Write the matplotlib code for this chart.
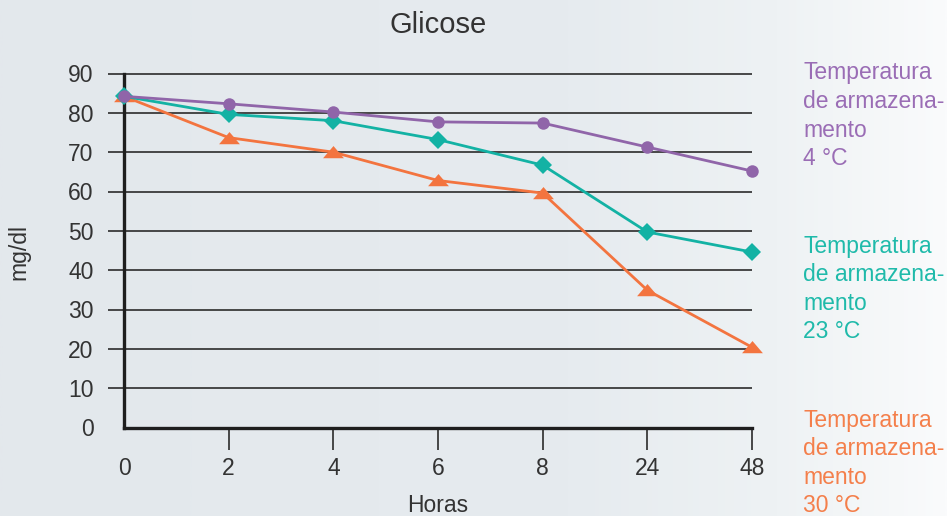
import numpy as np
import matplotlib
matplotlib.use("Agg")
import matplotlib.pyplot as plt
from matplotlib.colors import LinearSegmentedColormap

plt.rcParams['font.family'] = ['Liberation Sans', 'DejaVu Sans']

# Data
hours = ["0", "2", "4", "6", "8", "24", "48"]
temp_4 = [84.2, 82.3, 80.2, 77.7, 77.4, 71.3, 65.2]
temp_23 = [84.2, 79.6, 78.0, 73.2, 66.7, 49.7, 44.6]
temp_30 = [84.2, 73.7, 70.0, 62.8, 59.6, 34.9, 20.4]
series_labels = [
    ["Temperatura", "de armazena-", "mento", "4 \u00b0C"],
    ["Temperatura", "de armazena-", "mento", "23 \u00b0C"],
    ["Temperatura", "de armazena-", "mento", "30 \u00b0C"],
]
y_ticks = [0, 10, 20, 30, 40, 50, 60, 70, 80, 90]

line_colors = ["#9065a9", "#13b2a4", "#f3743f"]
text_colors = ["#9a6db5", "#1fbaaa", "#f47f4b"]
ink = "#333333"

W, H = 947, 516
fig = plt.figure(figsize=(W / 100, H / 100), dpi=100)

# Background: flat blue-grey fading to near white on the right
bg = fig.add_axes([0, 0, 1, 1], zorder=-10)
cmap = LinearSegmentedColormap.from_list(
    "bg", [(0.0, "#e3e8ec"), (0.6, "#e6ebef"), (0.82, "#eef2f4"), (1.0, "#fafbfc")])
grad = np.linspace(0, 1, 512).reshape(1, -1)
bg.imshow(grad, aspect="auto", cmap=cmap, extent=[0, 1, 0, 1])
bg.set_axis_off()

# Plot area in pixel coordinates
x0, x1 = 124, 752
y_top, y_bot = 73.5, 427.5
ax = fig.add_axes([x0 / W, 1 - y_bot / H, (x1 - x0) / W, (y_bot - y_top) / H])
ax.patch.set_alpha(0)
xpos = np.arange(len(hours))
ax.set_xlim(0, len(hours) - 1)
ax.set_ylim(0, 90)

# Horizontal grid lines, reaching a little left of the y axis
ext = 16 / (x1 - x0) * (len(hours) - 1)
for yv in y_ticks[1:]:
    ax.plot([-ext, len(hours) - 1], [yv, yv], color="#3a3a3a", lw=1.3,
            clip_on=False, zorder=1, solid_capstyle="butt")

for s in ["top", "right"]:
    ax.spines[s].set_visible(False)
for s in ["left", "bottom"]:
    ax.spines[s].set_color("#1e1e1e")
    ax.spines[s].set_linewidth(2.4)
    ax.spines[s].set_zorder(2)

fs = 16.5
ax.set_yticks(y_ticks)
ax.set_yticklabels([str(v) for v in y_ticks])
ax.tick_params(axis="y", length=0, pad=22, labelsize=fs, labelcolor=ink)
ax.set_xticks(xpos)
ax.set_xticklabels(hours)
ax.tick_params(axis="x", length=16, width=1.3, color="#3a3a3a", pad=5,
               labelsize=fs, labelcolor=ink)
ax.xaxis.get_major_ticks()[0].tick1line.set_visible(False)

tri = [(-1.0, -0.55), (1.0, -0.55), (0.0, 0.62)]
ax.plot(xpos, temp_4, color=line_colors[0], lw=2.0, marker="o", ms=9,
        markeredgewidth=0, clip_on=False, zorder=5)
ax.plot(xpos, temp_23, color=line_colors[1], lw=2.0, marker="D", ms=9,
        markeredgewidth=0, clip_on=False, zorder=4)
ax.plot(xpos, temp_30, color=line_colors[2], lw=2.0, marker=tri, ms=15,
        markeredgewidth=0, clip_on=False, zorder=3)

fig.text(438 / W, 1 - 25 / H, "Glicose", ha="center", va="center",
         fontsize=21, color=ink)
fig.text(438 / W, 1 - 505 / H, "Horas", ha="center", va="center",
         fontsize=fs, color=ink)
fig.text(19 / W, 1 - 252 / H, "mg/dl", ha="center", va="center",
         rotation=90, fontsize=fs, color=ink)

# Series labels to the right of the plot
starts = [73, 246, 420]
spacing = 28.6
for lines, c, y_start in zip(series_labels, text_colors, starts):
    for i, line in enumerate(lines):
        fig.text(803 / W, 1 - (y_start + i * spacing) / H, line, ha="left",
                 va="center", fontsize=fs, color=c)

fig.savefig("out.png", dpi=100)
